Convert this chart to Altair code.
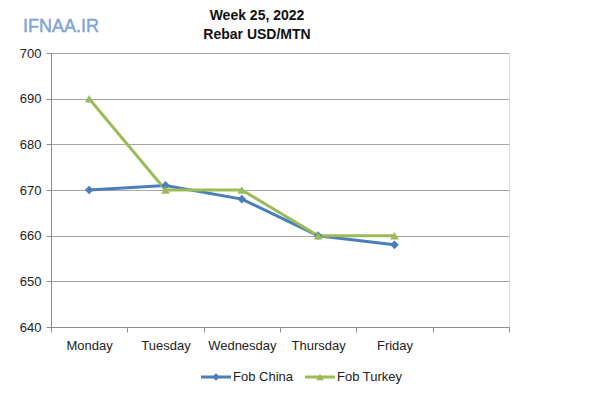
import altair as alt
import pandas as pd

days = ["Monday", "Tuesday", "Wednesday", "Thursday", "Friday"]
axis_slots = days + [" "]
china = [670, 671, 668, 660, 658]
turkey = [690, 670, 670, 660, 660]
series_names = ["Fob China", "Fob Turkey"]
colors = ["#4a7ebb", "#9bbb59"]
shapes = ["diamond", "triangle-up"]
y_ticks = [640, 650, 660, 670, 680, 690, 700]
title_lines = ["Week 25, 2022", "Rebar USD/MTN"]
watermark = "IFNAA.IR"

rows = []
for name, vals in zip(series_names, [china, turkey]):
    for d, v in zip(days, vals):
        rows.append({"day": d, "value": v, "series": name})
df = pd.DataFrame(rows)

FONT = "Liberation Sans"
GRID = "#a6a6a6"

x = alt.X(
    "day:N",
    sort=axis_slots,
    scale=alt.Scale(type="band", domain=axis_slots, paddingInner=0, paddingOuter=0),
    bandPosition=0.5,
    axis=alt.Axis(
        title=None, labelAngle=0, tickBand="extent", grid=False,
        domainColor="#8c8c8c", tickColor="#8c8c8c", tickSize=5,
        labelFont=FONT, labelFontSize=13, labelColor="#222222", labelPadding=7,
    ),
)
y = alt.Y(
    "value:Q",
    scale=alt.Scale(domain=[640, 700], nice=False, zero=False),
    axis=alt.Axis(
        title=None, values=y_ticks, grid=True, gridColor=GRID, gridWidth=1,
        domainColor="#8c8c8c", tickColor="#8c8c8c", tickSize=5,
        labelFont=FONT, labelFontSize=13, labelColor="#222222", labelPadding=5,
    ),
)
color = alt.Color("series:N", scale=alt.Scale(domain=series_names, range=colors), legend=None)

base = alt.Chart(df)
line = base.mark_line(strokeWidth=3).encode(x=x, y=y, color=color)
pts = base.mark_point(filled=True, opacity=1, size=75).encode(
    x=x, y=y, color=color,
    shape=alt.Shape("series:N", scale=alt.Scale(domain=series_names, range=shapes), legend=None),
)

one = pd.DataFrame({"n": [0]})
layers = [line, pts]

# title
for i, t in enumerate(title_lines):
    layers.append(
        alt.Chart(one).mark_text(font=FONT, fontSize=14, fontWeight="bold", color="#111111",
                                 align="center", baseline="middle")
        .encode(x=alt.value(206), y=alt.value(-37 + 19 * i), text=alt.value(t))
    )

# watermark
layers.append(
    alt.Chart(one).mark_text(font=FONT, fontSize=18, color="#86a9da", align="left",
                             baseline="middle", stroke="#6f95cc", strokeWidth=0.4)
    .encode(x=alt.value(-28), y=alt.value(-26), text=alt.value(watermark))
)

# legend
leg_x = [150, 254]
leg_y = 324
for i, name in enumerate(series_names):
    lx = leg_x[i]
    layers.append(
        alt.Chart(one).mark_rule(strokeWidth=3, color=colors[i])
        .encode(x=alt.value(lx), x2=alt.value(lx + 30), y=alt.value(leg_y))
    )
    layers.append(
        alt.Chart(one).mark_point(filled=True, opacity=1, size=60, color=colors[i], shape=shapes[i])
        .encode(x=alt.value(lx + 15), y=alt.value(leg_y))
    )
    layers.append(
        alt.Chart(one).mark_text(font=FONT, fontSize=13, color="#222222", align="left", baseline="middle")
        .encode(x=alt.value(lx + 32), y=alt.value(leg_y), text=alt.value(name))
    )

chart = alt.layer(*layers).properties(
    width=458, height=274,
    autosize=alt.AutoSizeParams(type="none"),
    padding={"left": 43, "top": 45, "right": 83, "bottom": 63},
).configure_view(strokeOpacity=0, strokeWidth=0).configure(background="white")

chart.save("out.html", embed_options={"renderer": "svg", "actions": False})
